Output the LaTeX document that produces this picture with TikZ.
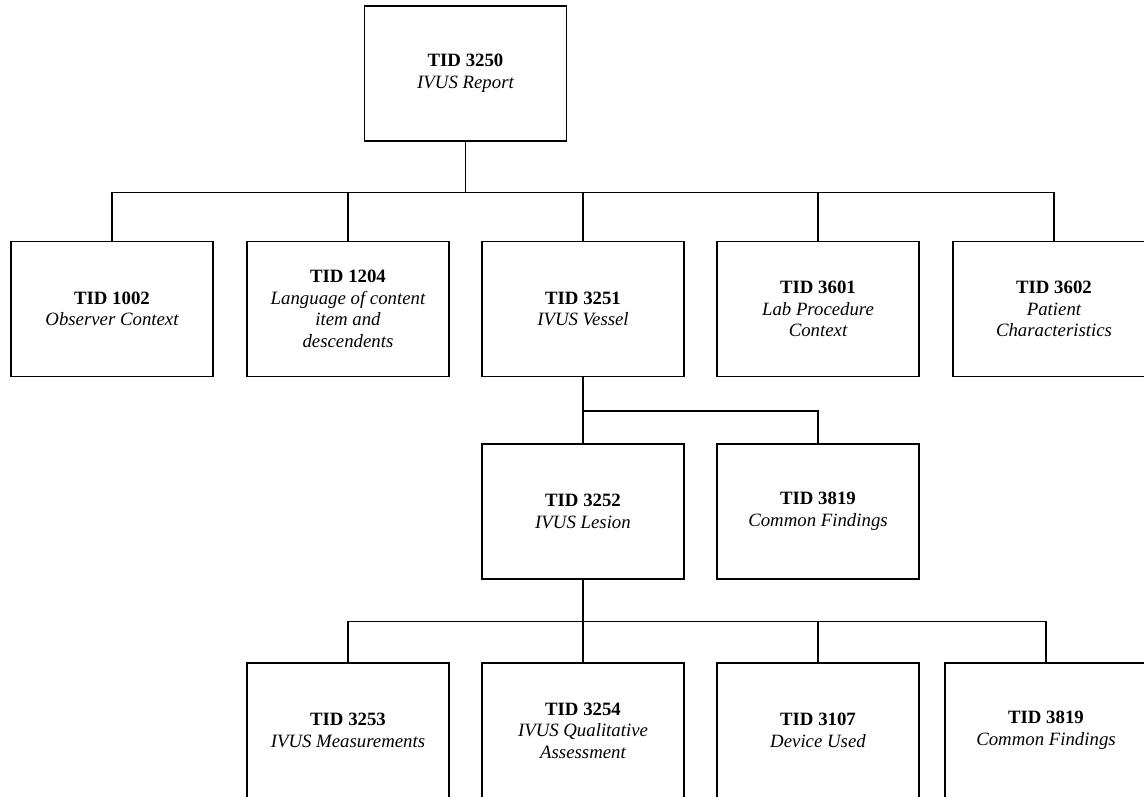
\documentclass[tikz,border=0pt]{standalone}
\usepackage{fontspec}
\setmainfont{Liberation Serif}
\begin{document}
\begin{tikzpicture}[x=0.02cm, y=-0.02cm]

    \tikzset{%
    every tid/.style={
        rectangle,
        draw,
        line width=0.6pt,
        minimum width=4.04cm,
        minimum height=2.7cm,
        inner sep=2pt,
        align=center,
        font=\fontsize{10.7}{12.3}\selectfont\itshape
        },
    tree link/.style={
        line width=0.6pt
        },
    }

    \clip (0,0) rectangle (1144,797);

    % Root template
    \node [every tid/.try] (root) at (465.5,73.5) {\textbf{\upshape TID 3250}\\IVUS Report};

    % First level templates
    \foreach \x/\n/\d [count=\i] in {112/1002/{Observer Context},
        348/1204/{Language of content\\item and\\descendents},
        583/3251/{IVUS Vessel},
        818/3601/{Lab Procedure\\Context},
        1054/3602/{Patient\\Characteristics}}
    \node [every tid/.try] (level1-\i) at (\x,309) {\textbf{\upshape TID \n}\\\d};

    % Second level templates (below IVUS Vessel)
    \foreach \x/\n/\d [count=\i] in {583/3252/{IVUS Lesion},
        818/3819/{Common Findings}}
    \node [every tid/.try] (level2-\i) at (\x,511.5) {\textbf{\upshape TID \n}\\\d};

    % Third level templates (below IVUS Lesion)
    \foreach \x/\n/\d [count=\i] in {348/3253/{IVUS Measurements},
        583/3254/{IVUS Qualitative\\Assessment},
        818/3107/{Device Used},
        1046/3819/{Common Findings}}
    \node [every tid/.try] (level3-\i) at (\x,730.5) {\textbf{\upshape TID \n}\\\d};

    % Root to first level
    \foreach \i in {1,...,5}
    \draw [tree link] (root.south) -- ++(0,51) -| (level1-\i.north);

    % IVUS Vessel to second level
    \foreach \i in {1,2}
    \draw [tree link] (level1-3.south) -- ++(0,34) -| (level2-\i.north);

    % IVUS Lesion to third level
    \foreach \i in {1,...,4}
    \draw [tree link] (level2-1.south) -- ++(0,42) -| (level3-\i.north);

\end{tikzpicture}
\end{document}
